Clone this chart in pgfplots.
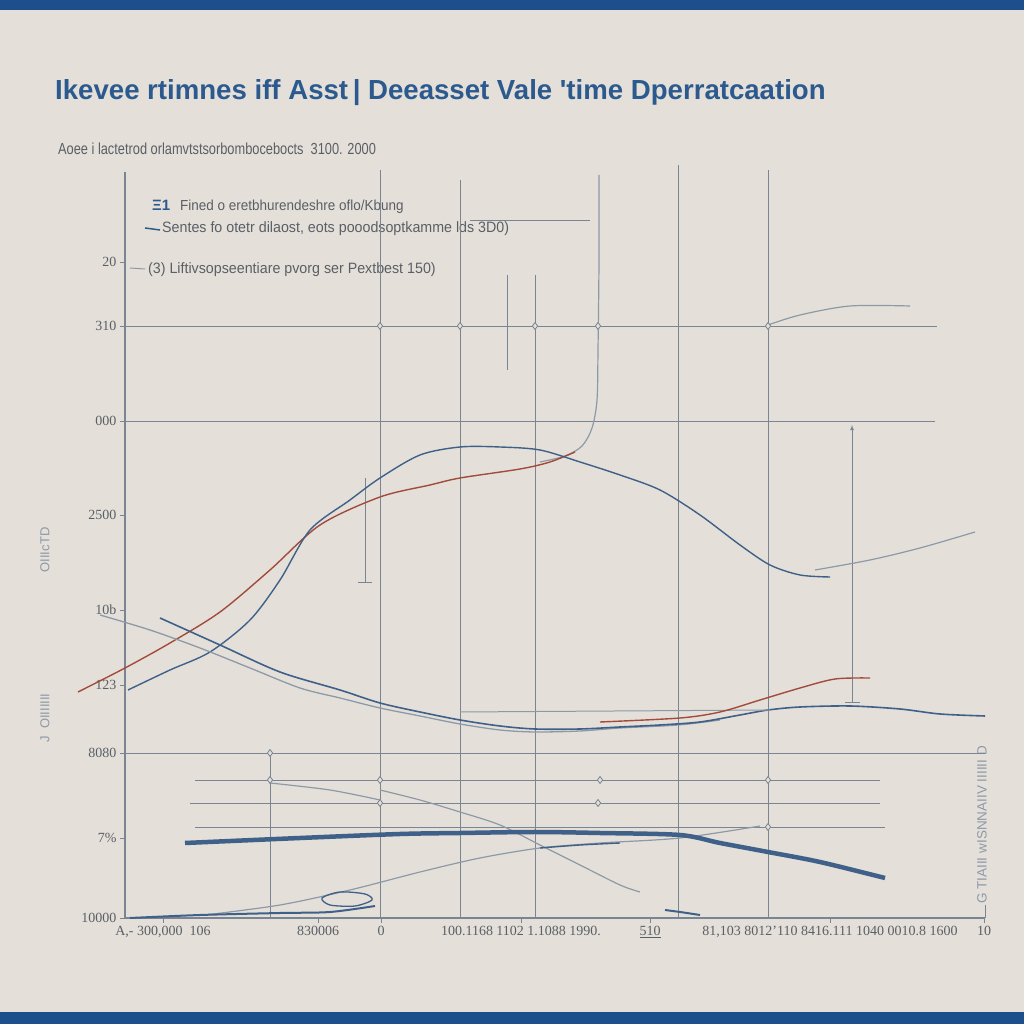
\documentclass[border=0pt]{standalone}
\usepackage{fontspec}
\setmainfont{Liberation Serif}
\newfontfamily\sans{Liberation Sans}
\usepackage{pgfplots}
\pgfplotsset{compat=1.18}
\definecolor{bg}{HTML}{E4E0D9}
\definecolor{barc}{HTML}{1C4F8C}
\definecolor{ttl}{HTML}{2C5A8E}
\definecolor{dblue}{HTML}{3F6089}
\definecolor{rline}{HTML}{A24B3B}
\definecolor{gline}{HTML}{8E99A8}
\definecolor{gridc}{HTML}{7A8593}
\definecolor{txt}{HTML}{5A5F66}
\pgfkeys{/pgfplots/table/px/.style={/pgfplots/table/row sep=\\, /pgfplots/table/y expr=918-\thisrow{y}}}
\begin{document}
\begin{tikzpicture}[x=1pt,y=1pt]
\fill[bg] (0,0) rectangle (1024,1024);
\fill[barc] (0,1014) rectangle (1024,1024);
\fill[barc] (0,0) rectangle (1024,12);
\node[anchor=base west, inner sep=0, text=ttl] at (55,924) {\sans\bfseries\fontsize{27.6}{30}\selectfont Ikevee rtimnes iff Asst\,| Deeasset Vale 'time Dperratcaation};
\node[anchor=base west, inner sep=0, text=txt] at (58,869) {\scalebox{0.8}[1]{\sans\fontsize{16}{18}\selectfont Aoee i lactetrod orlamvtstsorbombocebocts\ \ 3100. 2000}};
% legend
\node[anchor=base west, inner sep=0, text=ttl] at (152,813) {\sans\bfseries\fontsize{15}{16}\selectfont Ξ1};
\node[anchor=base west, inner sep=0, text=txt] at (180,813) {\scalebox{0.93}[1]{\sans\fontsize{14.5}{16}\selectfont Fined o eretbhurendeshre oflo/Kbung}};
\draw[ttl, line width=1.5pt] (145,796) -- (160,794);
\node[anchor=base west, inner sep=0, text=txt] at (162,791) {\scalebox{0.95}[1]{\sans\fontsize{15}{16}\selectfont Sentes fo otetr dilaost, eots pooodsoptkamme lds 3D0)}};
\draw[gline, line width=1pt] (130,756) -- (145,755);
\node[anchor=base west, inner sep=0, text=txt] at (148,750) {\scalebox{0.95}[1]{\sans\fontsize{15}{16}\selectfont (3) Liftivsopseentiare pvorg ser Pextbest 150)}};
% side labels
\node[rotate=90, text=gline, inner sep=0] at (45,474) {\sans\fontsize{13}{13}\selectfont OIIIcTD};
\node[rotate=90, text=gline, inner sep=0] at (45,306) {\sans\fontsize{13}{13}\selectfont J\ \ OIIIIIII};
\node[rotate=90, text=gline, inner sep=0] at (982,199) {\sans\fontsize{13.5}{13}\selectfont G TIAIII wISNNAIIV IIIIII D};
\begin{axis}[at={(125,106)}, anchor=south west, scale only axis,
  width=860pt, height=746pt, xmin=125, xmax=985, ymin=0, ymax=746,
  clip=false, axis x line=bottom, axis y line=left,
  axis line style={gridc, line width=1.3pt, -},
  xtick={163,318,381,521,650,830,984},
  xticklabels={{A,- 300,000\ \ 106},830006,0,{100.1168\ 1102 1.1088\ 1990.},\underline{510},{81,103\ 8012'110\ 8416.111\ 1040\ 0010.8\ 1600},10},
  ytick={656,592,497,403,308,233,165,80,0},
  yticklabels={20,310,000,2500,10b,123,8080,7\%,10000},
  tick style={gridc, line width=0.8pt}, tick align=outside, major tick length=5pt,
  ticklabel style={font=\fontsize{14}{14}\selectfont, text=txt},
  every axis plot/.append style={line join=round}]
% grid lines
\addplot[gridc, line width=0.9pt] table[px] {x y\\125 326\\937 326\\};
\addplot[gridc, line width=0.9pt] table[px] {x y\\125 421\\935 421\\};
\addplot[gridc, line width=0.9pt] table[px] {x y\\125 753\\985 753\\};
\addplot[gridc, line width=0.8pt] table[px] {x y\\270 753\\270 918\\};
\addplot[gridc, line width=0.8pt] table[px] {x y\\380 170\\380 918\\};
\addplot[gridc, line width=0.8pt] table[px] {x y\\460 180\\460 918\\};
\addplot[gridc, line width=0.8pt] table[px] {x y\\535 275\\535 918\\};
\addplot[gridc, line width=0.8pt] table[px] {x y\\678 165\\678 918\\};
\addplot[gridc, line width=0.8pt] table[px] {x y\\768 170\\768 918\\};
\addplot[gridc, line width=0.6pt] table[px] {x y\\507 275\\507 370\\};
\addplot[gridc, line width=0.6pt] table[px] {x y\\470 220\\590 220\\};
\addplot[gridc, line width=0.8pt] table[px] {x y\\985 905\\985 918\\};
\addplot[gridc, line width=0.8pt, -latex] table[px] {x y\\852 702\\852 425\\};
\addplot[gridc, line width=0.8pt] table[px] {x y\\845 702\\860 702\\};
\addplot[gridc, line width=0.6pt] table[px] {x y\\365 478\\365 582\\};
\addplot[gridc, line width=0.6pt] table[px] {x y\\358 582\\372 582\\};
% upper curves
\addplot[gline, line width=1.2pt, smooth] table[px] {x y\\540 462\\565 456\\582 446\\592 428\\597 400\\598 350\\599 260\\599 175\\};
\addplot[rline, line width=1.4pt, smooth] table[px] {x y\\78 692\\125 668\\170 643\\220 612\\270 570\\320 525\\380 497\\430 485\\460 478\\520 469\\550 462\\575 452\\};
\addplot[dblue, line width=1.4pt, smooth] table[px] {x y\\128 690\\170 670\\210 652\\250 620\\280 580\\310 530\\350 500\\380 478\\420 455\\460 447\\500 447\\540 450\\580 462\\620 475\\660 490\\700 515\\740 545\\770 565\\800 575\\830 577\\};
\addplot[gline, line width=1.2pt, smooth] table[px] {x y\\815 570\\870 560\\920 548\\975 532\\};
\addplot[gline, line width=1.2pt, smooth] table[px] {x y\\768 325\\800 315\\850 306\\910 306\\};
% middle curves
\addplot[gline, line width=1.3pt, smooth] table[px] {x y\\100 615\\150 630\\200 648\\250 668\\300 688\\340 698\\380 708\\420 716\\460 724\\500 730\\535 732\\580 731\\620 728\\678 725\\720 720\\};
\addplot[dblue, line width=1.6pt, smooth] table[px] {x y\\160 618\\220 645\\280 672\\340 690\\380 703\\420 712\\460 720\\500 726\\535 729\\580 729\\620 727\\660 725\\700 722\\740 715\\768 710\\800 707\\850 706\\900 709\\940 714\\985 716\\};
\addplot[gline, line width=1pt] table[px] {x y\\460 712\\770 710\\};
\addplot[rline, line width=1.4pt, smooth] table[px] {x y\\600 722\\680 718\\720 712\\760 700\\800 688\\835 679\\870 678\\};
% lower group
\addplot[gridc, line width=0.9pt] table[px] {x y\\195 780\\880 780\\};
\addplot[gridc, line width=0.9pt] table[px] {x y\\190 803\\880 803\\};
\addplot[gridc, line width=0.9pt] table[px] {x y\\195 827\\885 827\\};
\addplot[gline, line width=1.2pt, smooth] table[px] {x y\\270 783\\330 790\\380 800\\};
\addplot[gline, line width=1.2pt, smooth] table[px] {x y\\380 790\\420 800\\460 812\\500 825\\540 845\\580 865\\620 885\\640 892\\};
\addplot[gline, line width=1.2pt, smooth] table[px] {x y\\205 915\\280 905\\350 890\\420 872\\480 858\\540 848\\600 843\\680 838\\760 826\\};
\addplot[dblue, line width=1.4pt, smooth] table[px] {x y\\540 848\\580 845\\620 843\\};
\addplot[dblue, line width=4.5pt, smooth] table[px] {x y\\185 843\\300 838\\400 834\\460 833\\535 832\\600 833\\680 835\\720 843\\768 852\\820 862\\885 878\\};
\addplot[dblue, line width=2pt, smooth] table[px] {x y\\130 918\\200 915\\280 913\\330 912\\375 906\\};
\addplot[dblue, line width=1.3pt, smooth cycle] table[px] {x y\\322 898\\340 892\\365 894\\372 900\\355 906\\330 905\\};
\addplot[dblue, line width=2pt, smooth] table[px] {x y\\665 910\\680 912\\700 915\\};
% diamond marks
\addplot[only marks, mark=diamond*, mark size=3.5pt, mark options={fill=bg, draw=gridc, line width=0.8pt}] table[px] {x y\\380 326\\460 326\\535 326\\598 326\\768 326\\270 753\\270 780\\380 780\\600 780\\768 780\\380 803\\598 803\\768 827\\};
\end{axis}
\end{tikzpicture}
\end{document}
